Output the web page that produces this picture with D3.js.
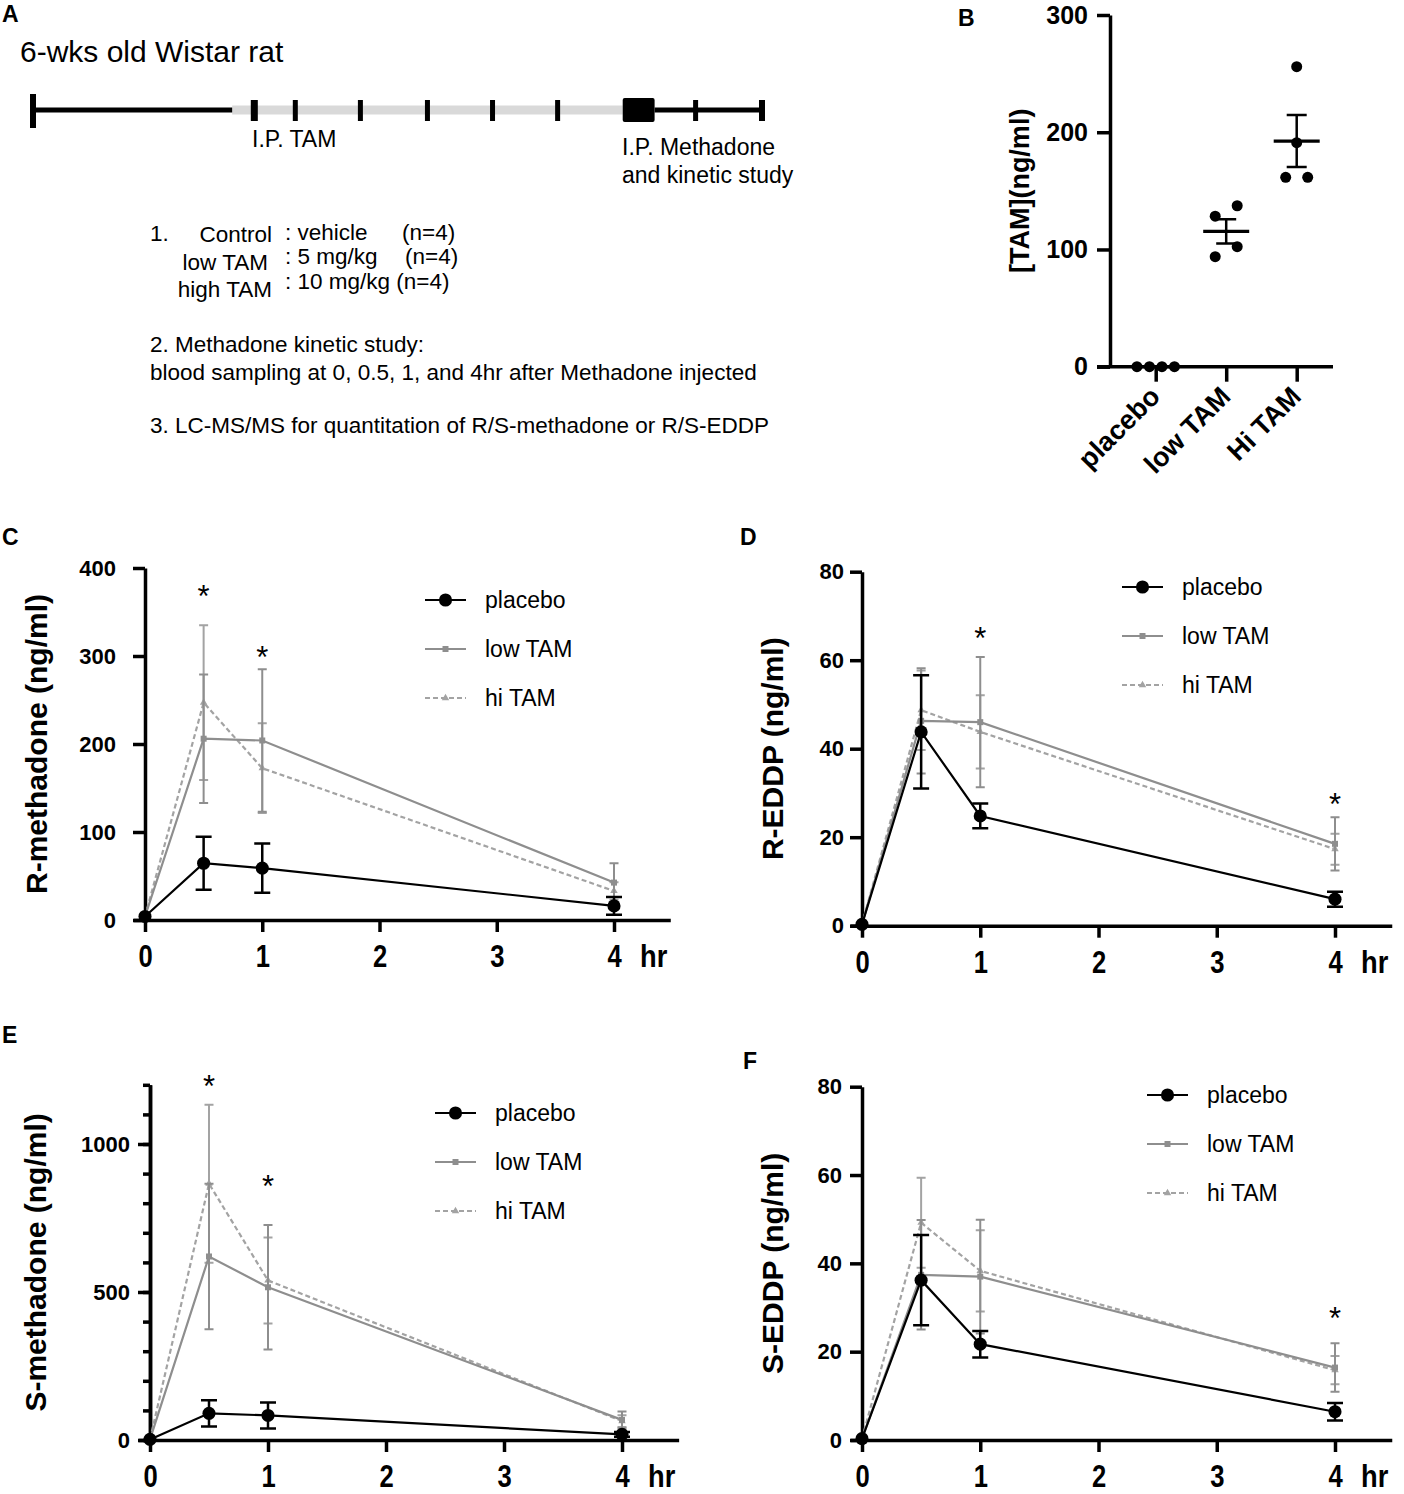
<!DOCTYPE html>
<html>
<head>
<meta charset="utf-8">
<script src="https://cdn.jsdelivr.net/npm/d3@7"></script>
<style>
body { margin: 0; background: #fff; }
svg { display: block; font-family: 'Liberation Sans', Arial, Helvetica, sans-serif; }
</style>
</head>
<body>
<svg id="fig" width="1404" height="1494"></svg>
<script>
// sampling times (hr)
const hours = [0, 0.5, 1, 4]
const xTicks = [0, 1, 2, 3, 4]

// C: R-methadone (ng/ml), mean and error
const rMethPlacebo = [4, 64.5, 59, 16]
const rMethPlaceboErr = [0, 30, 28, 10]
const rMethLow = [4, 206, 204, 42.5]
const rMethLowErr = [0, 73, 81, 22]
const rMethHi = [4, 247, 172.5, 33]
const rMethHiErr = [0, 88, 51, 10]
const rMethStars = [[0.5, 375], [1, 306]]

// D: R-EDDP (ng/ml)
const rEddpPlacebo = [0.3, 43.8, 24.8, 6.0]
const rEddpPlaceboErr = [0, 12.8, 2.8, 1.7]
const rEddpLow = [0.3, 46.3, 46.0, 18.5]
const rEddpLowErr = [0, 11.9, 14.7, 6.0]
const rEddpHi = [0.3, 48.7, 43.8, 17.3]
const rEddpHiErr = [0, 9.0, 8.3, 3.5]
const rEddpStars = [[1, 66.4], [4, 28.9]]

// E: S-methadone (ng/ml)
const sMethPlacebo = [2, 90, 83, 19]
const sMethPlaceboErr = [0, 44, 44, 8]
const sMethLow = [2, 620, 516, 68]
const sMethLowErr = [0, 246, 210, 28]
const sMethHi = [2, 866, 539, 64]
const sMethHiErr = [0, 267, 145, 20]
const sMethStars = [[0.5, 1216], [1, 878]]

// F: S-EDDP (ng/ml)
const sEddpPlacebo = [0.3, 36.2, 21.7, 6.4]
const sEddpPlaceboErr = [0, 10.2, 3.0, 2.0]
const sEddpLow = [0.3, 37.4, 37.0, 16.4]
const sEddpLowErr = [0, 12.4, 12.9, 5.5]
const sEddpHi = [0.3, 49.2, 38.3, 15.8]
const sEddpHiErr = [0, 10.2, 9.2, 3.2]
const sEddpStars = [[4, 29]]

// B: plasma TAM (ng/ml) per rat
const tamGroups = ['placebo', 'low TAM', 'Hi TAM']
const tamPlacebo = [0, 0, 0, 0]
const tamLow = [128.4, 137.3, 102.4, 93.8]
const tamHi = [255.9, 191.1, 161.5, 161.5]
const tamTicks = [0, 100, 200, 300]

// A: schematic timeline (days)
const tamDays = [34, 40.3, 50.3, 60.6, 70.6, 80.6]
const kineticDays = [101.8, 112]

const svg = d3.select('#fig')
svg.append('rect').attr('width', 1404).attr('height', 1494).attr('fill', '#fff')

const styles = {
  placebo: { color: '#000', symbol: d3.symbolCircle, size: 135, cap: 8, eb: 2.5, dash: null },
  low: { color: '#8e8e8e', symbol: d3.symbolSquare, size: 36, cap: 4.5, eb: 2, dash: null },
  hi: { color: '#a3a3a3', symbol: d3.symbolTriangle, size: 24, cap: 4.5, eb: 2, dash: '5,3' }
}
const legendNames = { placebo: 'placebo', low: 'low TAM', hi: 'hi TAM' }

function panelLetter (t, x, y) {
  svg.append('text').attr('x', x).attr('y', y).attr('font-size', 23).attr('font-weight', 'bold').text(t)
}

function drawKinetic (p) {
  const g = svg.append('g')
  const x = d3.scaleLinear().domain([0, 4]).range([p.left, p.right])
  const y = d3.scaleLinear().domain([0, p.yMax]).range([p.bottom, p.top])
  panelLetter(p.letter, p.letterX, p.letterY)

  // x axis, line runs a bit past both ends
  const xa = x.copy().domain([-0.1, 4.48]).range([x(-0.1), x(4.48)])
  const xAxis = g.append('g').attr('transform', 'translate(0,' + p.bottom + ')')
    .call(d3.axisBottom(xa).tickValues(xTicks).tickSize(12).tickSizeOuter(0).tickFormat(d3.format('d')))
  xAxis.attr('font-family', null).attr('font-size', null)
  xAxis.selectAll('.domain, .tick line').attr('stroke-width', 3.5)
  xAxis.selectAll('.tick text').attr('y', 47).attr('dy', null)
    .attr('font-size', 32).attr('font-weight', 'bold').attr('transform', 'scale(0.8,1)')
  g.append('text').attr('transform', 'translate(' + (x(4) + 26) + ',' + (p.bottom + 47) + ') scale(0.88,1)')
    .attr('font-size', 31).attr('font-weight', 'bold').text('hr')

  // y axis
  if (p.yMinor) {
    const minor = g.append('g').attr('transform', 'translate(' + p.left + ',0)')
      .call(d3.axisLeft(y).tickValues(p.yMinor).tickSize(7).tickSizeOuter(0).tickFormat(''))
    minor.selectAll('.domain, .tick line').attr('stroke-width', 3.5)
  }
  const yAxis = g.append('g').attr('transform', 'translate(' + p.left + ',0)')
    .call(d3.axisLeft(y).tickValues(p.yTicks).tickSize(12).tickSizeOuter(0)
      .tickPadding(p.tickGap - 12).tickFormat(d3.format('d')))
  yAxis.attr('font-family', null).attr('font-size', null)
  yAxis.selectAll('.domain, .tick line').attr('stroke-width', 3.5)
  yAxis.selectAll('.tick text').attr('font-size', 22).attr('font-weight', 'bold')

  g.append('text')
    .attr('transform', 'translate(' + p.yLabelX + ',' + (p.top + p.bottom) / 2 + ') rotate(-90)')
    .attr('text-anchor', 'middle').attr('font-size', 30).attr('font-weight', 'bold').text(p.yLabel)

  // series, grey first so placebo sits on top
  const line = d3.line().x(d => x(d.h)).y(d => y(d.v))
  for (let s of p.series) {
    const st = styles[s.key]
    const pts = hours.map((h, j) => ({ h: h, v: s.vals[j], e: s.errs[j] }))
    g.append('g').selectAll('path').data(pts.filter(d => d.e > 0)).join('path')
      .attr('fill', 'none').attr('stroke', st.color).attr('stroke-width', st.eb)
      .attr('d', d => {
        const cx = x(d.h)
        const y1 = y(d.v + d.e)
        const y0 = y(d.v - d.e)
        return 'M' + cx + ',' + y0 + 'V' + y1 + 'M' + (cx - st.cap) + ',' + y1 + 'h' + 2 * st.cap +
          'M' + (cx - st.cap) + ',' + y0 + 'h' + 2 * st.cap
      })
    g.append('path').datum(pts).attr('d', line).attr('fill', 'none')
      .attr('stroke', st.color).attr('stroke-width', 2.2).attr('stroke-dasharray', st.dash)
    g.append('g').selectAll('path').data(pts).join('path')
      .attr('transform', d => 'translate(' + x(d.h) + ',' + y(d.v) + ')')
      .attr('d', d3.symbol().type(st.symbol).size(st.size)).attr('fill', st.color)
  }

  // significance marks
  g.selectAll('text.star').data(p.stars).join('text').attr('class', 'star')
    .attr('x', d => x(d[0])).attr('y', d => y(d[1]) + 17)
    .attr('text-anchor', 'middle').attr('font-size', 31).text('*')

  // legend
  const lg = g.append('g').attr('transform', 'translate(' + p.legendX + ',' + p.legendY + ')')
  ;['placebo', 'low', 'hi'].forEach((k, i) => {
    const st = styles[k]
    const row = lg.append('g').attr('transform', 'translate(0,' + i * 49 + ')')
    row.append('line').attr('x1', 0).attr('x2', 41).attr('stroke', st.color)
      .attr('stroke-width', 2.2).attr('stroke-dasharray', st.dash)
    row.append('path').attr('transform', 'translate(20.5,0)')
      .attr('d', d3.symbol().type(st.symbol).size(st.size)).attr('fill', st.color)
    row.append('text').attr('x', 60).attr('y', 8).attr('font-size', 23).text(legendNames[k])
  })
}

// ---------- A: protocol schematic ----------
panelLetter('A', 2, 22)
svg.append('text').attr('x', 20).attr('y', 62).attr('font-size', 30).text('6-wks old Wistar rat')
const tl = d3.scaleLinear().domain([0, 112]).range([33, 762])
const ty = 110
svg.append('line').attr('x1', tl(30.6)).attr('x2', tl(90.6)).attr('y1', ty).attr('y2', ty)
  .attr('stroke', '#d9d9d9').attr('stroke-width', 9)
svg.append('line').attr('x1', tl(0)).attr('x2', tl(30.6)).attr('y1', ty).attr('y2', ty)
  .attr('stroke', '#000').attr('stroke-width', 5)
svg.append('line').attr('x1', tl(95.5)).attr('x2', tl(112)).attr('y1', ty).attr('y2', ty)
  .attr('stroke', '#000').attr('stroke-width', 5)
svg.append('rect').attr('x', tl(0) - 3).attr('y', 94).attr('width', 6).attr('height', 34).attr('fill', '#000')
svg.selectAll('rect.tam').data(tamDays).join('rect').attr('class', 'tam')
  .attr('x', (d, i) => tl(d) - (i === 0 ? 3.5 : 2.5)).attr('y', 100)
  .attr('width', (d, i) => i === 0 ? 7 : 5).attr('height', 21).attr('fill', '#000')
svg.append('rect').attr('x', tl(90.6)).attr('y', 98).attr('width', tl(95.5) - tl(90.6)).attr('height', 24)
  .attr('rx', 2).attr('fill', '#000')
svg.selectAll('rect.kin').data(kineticDays).join('rect').attr('class', 'kin')
  .attr('x', (d, i) => tl(d) - (i === 1 ? 3 : 2.5)).attr('y', 100)
  .attr('width', (d, i) => i === 1 ? 6 : 5).attr('height', 21).attr('fill', '#000')
svg.append('text').attr('x', 252).attr('y', 147).attr('font-size', 23).text('I.P. TAM')
svg.append('text').attr('x', 622).attr('y', 155).attr('font-size', 23).text('I.P. Methadone')
svg.append('text').attr('x', 622).attr('y', 183).attr('font-size', 23).text('and kinetic study')

const proto = svg.append('g').attr('font-size', 22.5)
proto.append('text').attr('x', 150).attr('y', 241).text('1.')
proto.append('text').attr('x', 272).attr('y', 242).attr('text-anchor', 'end').text('Control')
proto.append('text').attr('x', 285).attr('y', 240).text(': vehicle')
proto.append('text').attr('x', 402).attr('y', 240).text('(n=4)')
proto.append('text').attr('x', 268).attr('y', 270).attr('text-anchor', 'end').text('low TAM')
proto.append('text').attr('x', 285).attr('y', 264).text(': 5 mg/kg')
proto.append('text').attr('x', 405).attr('y', 264).text('(n=4)')
proto.append('text').attr('x', 272).attr('y', 297).attr('text-anchor', 'end').text('high TAM')
proto.append('text').attr('x', 285).attr('y', 289).text(': 10 mg/kg (n=4)')
proto.append('text').attr('x', 150).attr('y', 352).text('2. Methadone kinetic study:')
proto.append('text').attr('x', 150).attr('y', 380).text('blood sampling at 0, 0.5, 1, and 4hr after Methadone injected')
proto.append('text').attr('x', 150).attr('y', 433).text('3. LC-MS/MS for quantitation of R/S-methadone or R/S-EDDP')

// ---------- B: TAM levels ----------
panelLetter('B', 958, 26)
const bx = d3.scalePoint().domain(tamGroups).range([1155.7, 1296.7])
const by = d3.scaleLinear().domain([0, 300]).range([366.7, 15])
const bg = svg.append('g')
const byAxis = bg.append('g').attr('transform', 'translate(1110,0)')
  .call(d3.axisLeft(by).tickValues(tamTicks).tickSize(13).tickSizeOuter(0).tickPadding(9))
byAxis.attr('font-family', null).attr('font-size', null)
byAxis.selectAll('.domain, .tick line').attr('stroke-width', 3.5)
byAxis.selectAll('.tick text').attr('font-size', 25).attr('font-weight', 'bold')
const bxScale = d3.scaleLinear().domain([0, 1]).range([1097, 1333])
bg.append('line').attr('x1', bxScale(0)).attr('x2', bxScale(1)).attr('y1', by(0)).attr('y2', by(0))
  .attr('stroke', '#000').attr('stroke-width', 3.5)
const bxAxis = bg.append('g').attr('transform', 'translate(0,' + by(0) + ')')
  .call(d3.axisBottom(bx).tickSize(15).tickSizeOuter(0).tickFormat(''))
bxAxis.select('.domain').remove()
bxAxis.selectAll('.tick line').attr('stroke-width', 3.5)
bg.selectAll('text.cat').data(tamGroups).join('text').attr('class', 'cat')
  .attr('transform', d => 'translate(' + (bx(d) + 6) + ',' + 398 + ') rotate(-45)')
  .attr('text-anchor', 'end').attr('font-size', 27).attr('font-weight', 'bold').text(d => d)
bg.append('text').attr('transform', 'translate(1029,' + (by(0) + by(300)) / 2 + ') rotate(-90)')
  .attr('text-anchor', 'middle').attr('font-size', 27).attr('font-weight', 'bold').text('[TAM](ng/ml)')

const tamSets = [tamPlacebo, tamLow, tamHi]
tamSets.forEach((vals, gi) => {
  const cx = bx(tamGroups[gi])
  // dodge points that overlap vertically
  const sorted = vals.slice().sort((a, b) => b - a)
  const rows = []
  for (let v of sorted) {
    const last = rows[rows.length - 1]
    if (last && Math.abs(by(last[0]) - by(v)) < 14) last.push(v)
    else rows.push([v])
  }
  const pts = []
  for (let r of rows) {
    r.sort((a, b) => a - b)
    const sp = r.length > 2 ? 12.5 : 22
    r.forEach((v, i) => pts.push({ x: cx + (i - (r.length - 1) / 2) * sp, v: v }))
  }
  const mean = d3.mean(vals)
  const sem = d3.deviation(vals) / Math.sqrt(vals.length)
  if (sem > 0) {
    bg.append('path').attr('fill', 'none').attr('stroke', '#000').attr('stroke-width', 2.5)
      .attr('d', 'M' + cx + ',' + by(mean - sem) + 'V' + by(mean + sem) +
        'M' + (cx - 10) + ',' + by(mean + sem) + 'h20M' + (cx - 10) + ',' + by(mean - sem) + 'h20')
  }
  bg.append('line').attr('x1', cx - 23).attr('x2', cx + 23).attr('y1', by(mean)).attr('y2', by(mean))
    .attr('stroke', '#000').attr('stroke-width', 3.2)
  bg.append('g').selectAll('circle').data(pts).join('circle')
    .attr('cx', d => d.x).attr('cy', d => by(d.v)).attr('r', 5.5).attr('fill', '#000')
})

// ---------- C-F: kinetics ----------
drawKinetic({
  letter: 'C', letterX: 2, letterY: 545,
  left: 145, right: 614, bottom: 920, top: 568, yMax: 400, yTicks: [0, 100, 200, 300, 400], tickGap: 29,
  yLabel: 'R-methadone (ng/ml)', yLabelX: 47, legendX: 425, legendY: 600, stars: rMethStars,
  series: [
    { key: 'hi', vals: rMethHi, errs: rMethHiErr },
    { key: 'low', vals: rMethLow, errs: rMethLowErr },
    { key: 'placebo', vals: rMethPlacebo, errs: rMethPlaceboErr }
  ]
})
drawKinetic({
  letter: 'D', letterX: 740, letterY: 545,
  left: 862, right: 1335, bottom: 925.7, top: 571.7, yMax: 80, yTicks: [0, 20, 40, 60, 80], tickGap: 18,
  yLabel: 'R-EDDP (ng/ml)', yLabelX: 783, legendX: 1122, legendY: 587, stars: rEddpStars,
  series: [
    { key: 'hi', vals: rEddpHi, errs: rEddpHiErr },
    { key: 'low', vals: rEddpLow, errs: rEddpLowErr },
    { key: 'placebo', vals: rEddpPlacebo, errs: rEddpPlaceboErr }
  ]
})
drawKinetic({
  letter: 'E', letterX: 2, letterY: 1043,
  left: 150, right: 622, bottom: 1440, top: 1084.8, yMax: 1200, yTicks: [0, 500, 1000], tickGap: 20,
  yMinor: d3.range(0, 1201, 100),
  yLabel: 'S-methadone (ng/ml)', yLabelX: 46, legendX: 435, legendY: 1113, stars: sMethStars,
  series: [
    { key: 'hi', vals: sMethHi, errs: sMethHiErr },
    { key: 'low', vals: sMethLow, errs: sMethLowErr },
    { key: 'placebo', vals: sMethPlacebo, errs: sMethPlaceboErr }
  ]
})
drawKinetic({
  letter: 'F', letterX: 743, letterY: 1069,
  left: 862, right: 1335, bottom: 1440, top: 1086.7, yMax: 80, yTicks: [0, 20, 40, 60, 80], tickGap: 20,
  yLabel: 'S-EDDP (ng/ml)', yLabelX: 783, legendX: 1147, legendY: 1095, stars: sEddpStars,
  series: [
    { key: 'hi', vals: sEddpHi, errs: sEddpHiErr },
    { key: 'low', vals: sEddpLow, errs: sEddpLowErr },
    { key: 'placebo', vals: sEddpPlacebo, errs: sEddpPlaceboErr }
  ]
})
</script>
</body>
</html>
